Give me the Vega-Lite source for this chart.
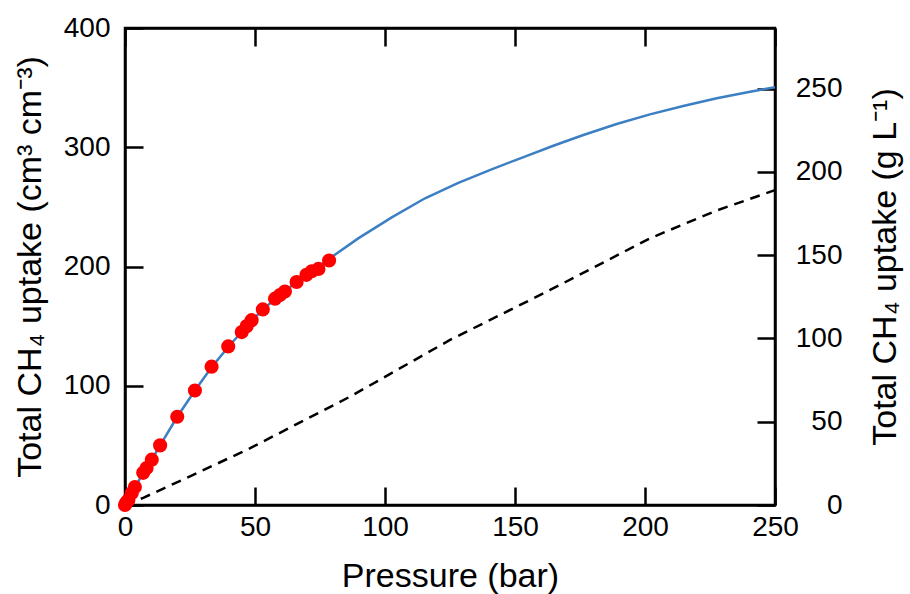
{
  "$schema": "https://vega.github.io/schema/vega-lite/v6.json",
  "width": 650,
  "height": 477,
  "autosize": "none",
  "padding": {"left": 125, "top": 28, "right": 135, "bottom": 89},
  "background": "white",
  "config": {
    "view": {"stroke": "black", "strokeWidth": 2.5},
    "axis": {
      "grid": false,
      "domainColor": "black",
      "domainWidth": 2.5,
      "tickColor": "black",
      "tickWidth": 2.5,
      "tickSize": -18,
      "labelFont": "Liberation Sans",
      "labelFontSize": 28,
      "labelColor": "black",
      "labelFlush": false,
      "titleFont": "Liberation Sans",
      "titleFontSize": 34,
      "titleFontWeight": "normal",
      "titleColor": "black"
    }
  },
  "datasets": {
    "bulk": [
      {"P": 0, "U": 0}, {"P": 7, "U": 6}, {"P": 25, "U": 24}, {"P": 48, "U": 47.5},
      {"P": 86.5, "U": 90.8}, {"P": 125, "U": 138.4}, {"P": 163.5, "U": 180.3},
      {"P": 201.9, "U": 223.6}, {"P": 227.6, "U": 247}, {"P": 250, "U": 264}
    ],
    "fit": [
      {"P": 0, "U": 0}, {"P": 2, "U": 8}, {"P": 4, "U": 15.5}, {"P": 7, "U": 27},
      {"P": 10.3, "U": 38}, {"P": 13.5, "U": 50}, {"P": 20.1, "U": 74}, {"P": 26.9, "U": 96},
      {"P": 33.3, "U": 115.5}, {"P": 39.7, "U": 132.5}, {"P": 46, "U": 148}, {"P": 53, "U": 164},
      {"P": 60, "U": 177}, {"P": 66, "U": 187}, {"P": 72, "U": 196}, {"P": 78.8, "U": 206.9},
      {"P": 89.7, "U": 223.6}, {"P": 102.6, "U": 241.2}, {"P": 115.4, "U": 257.2},
      {"P": 128.2, "U": 270.2}, {"P": 141, "U": 281.5}, {"P": 153.8, "U": 292.2},
      {"P": 165, "U": 301.5}, {"P": 176.3, "U": 310.3}, {"P": 189.1, "U": 319.5},
      {"P": 201.9, "U": 327.6}, {"P": 214.7, "U": 334.6}, {"P": 227.6, "U": 341.1},
      {"P": 240.4, "U": 346.6}, {"P": 250, "U": 350.3}
    ],
    "expt": [
      {"P": 0, "U": 0}, {"P": 0.5, "U": 2}, {"P": 1.3, "U": 4.2}, {"P": 2.6, "U": 10},
      {"P": 3.8, "U": 15}, {"P": 7.0, "U": 27}, {"P": 8.3, "U": 31}, {"P": 10.3, "U": 38},
      {"P": 13.5, "U": 50}, {"P": 20.1, "U": 74}, {"P": 26.9, "U": 96}, {"P": 33.3, "U": 116},
      {"P": 39.7, "U": 133}, {"P": 44.9, "U": 145}, {"P": 46.8, "U": 150}, {"P": 48.7, "U": 155},
      {"P": 53, "U": 164}, {"P": 57.7, "U": 173}, {"P": 59.6, "U": 176}, {"P": 61.5, "U": 179},
      {"P": 66, "U": 187}, {"P": 69.8, "U": 193}, {"P": 71.8, "U": 196}, {"P": 74.4, "U": 198},
      {"P": 78.5, "U": 205}
    ]
  },
  "layer": [
    {
      "data": {"name": "bulk"},
      "mark": {"type": "line", "color": "black", "strokeDash": [10, 7], "strokeWidth": 2.5},
      "encoding": {
        "x": {"field": "P", "type": "quantitative", "scale": {"domain": [0, 250], "nice": false},
              "axis": {"orient": "top", "labels": false, "title": null, "values": [0, 50, 100, 150, 200, 250]}},
        "y": {"field": "U", "type": "quantitative", "scale": {"domain": [0, 400], "nice": false}, "axis": null}
      }
    },
    {
      "data": {"name": "fit"},
      "mark": {"type": "line", "color": "#3c7fc3", "strokeWidth": 2.5},
      "encoding": {
        "x": {"field": "P", "type": "quantitative", "scale": {"domain": [0, 250], "nice": false},
              "axis": {"orient": "bottom", "title": "Pressure (bar)", "values": [0, 50, 100, 150, 200, 250],
                       "labelPadding": 26, "titlePadding": 18}},
        "y": {"field": "U", "type": "quantitative", "scale": {"domain": [0, 400], "nice": false},
              "axis": {"orient": "left", "title": "Total CH₄ uptake (cm³ cm⁻³)", "values": [0, 100, 200, 300, 400],
                       "labelPadding": 33, "titlePadding": 16}}
      }
    },
    {
      "data": {"name": "expt"},
      "mark": {"type": "point", "filled": true, "color": "#ff0000", "opacity": 1, "size": 200},
      "encoding": {
        "x": {"field": "P", "type": "quantitative", "scale": {"domain": [0, 250], "nice": false}, "axis": null},
        "y": {"field": "U", "type": "quantitative", "scale": {"domain": [0, 400], "nice": false}, "axis": null}
      }
    },
    {
      "data": {"values": [{}]},
      "mark": {"type": "rule", "strokeOpacity": 0},
      "encoding": {
        "y": {"datum": 0, "type": "quantitative", "scale": {"domain": [0, 286.4], "nice": false},
              "axis": {"orient": "right", "title": "Total CH₄ uptake (g L⁻¹)", "values": [0, 50, 100, 150, 200, 250],
                       "labelAlign": "right", "labelPadding": 85, "titlePadding": 26,
                       "titleAngle": 270, "titleBaseline": "top"}}
      }
    }
  ],
  "resolve": {"scale": {"y": "independent"}, "axis": {"x": "independent", "y": "independent"}}
}
